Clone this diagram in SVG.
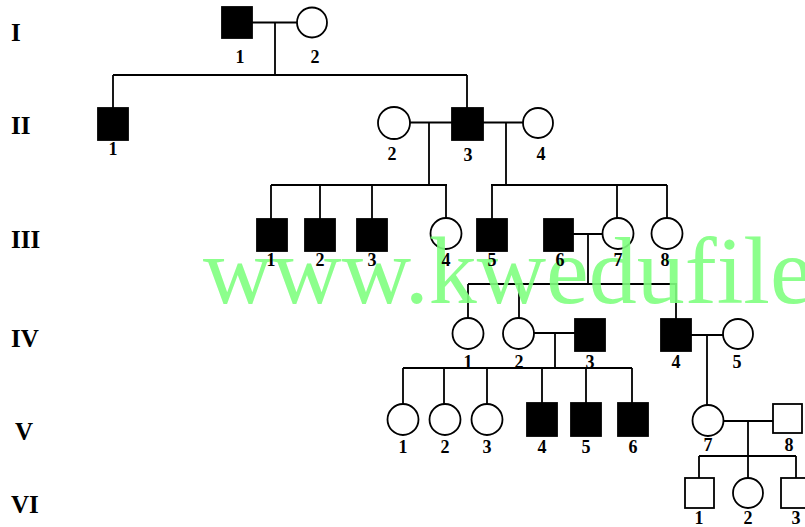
<svg xmlns="http://www.w3.org/2000/svg" width="805" height="527" viewBox="0 0 805 527">
<style>
.a{fill:#000;stroke:#000;stroke-width:1.8}
.u{fill:#fff;stroke:#000;stroke-width:1.8}
.ln{stroke:#000;stroke-width:1.8;fill:none}
.n{font-family:"Liberation Serif","Times New Roman",serif;font-weight:bold;font-size:18px;text-anchor:middle;fill:#000}
.g{font-family:"Liberation Serif","Times New Roman",serif;font-weight:bold;font-size:25px;fill:#000}
.w{font-family:"Liberation Serif","Times New Roman",serif;font-size:96px;fill:#7fff7f;fill-opacity:0.9}
</style>
<rect width="805" height="527" fill="#fff"/>
<g id="generations">
<text class="g" x="11" y="41">I</text>
<text class="g" x="11" y="134">II</text>
<text class="g" x="11" y="248">III</text>
<text class="g" x="11" y="347">IV</text>
<text class="g" x="15" y="440">V</text>
<text class="g" x="11" y="513">VI</text>
</g>
<g id="connectors" class="ln">
<path d="M252 22.5H297M275 22.5V75M113 75H467M113 75V108M467 75V108"/>
<path d="M410 122.5H452M483 122.5H523M429 122.5V185M506 122.5V185"/>
<path d="M271 185H447M271 185V219M320 185V219M372 185V219M446 185V218"/>
<path d="M491 185H667M492 185V219M617 185V218M667 185V218"/>
<path d="M573 234H603M588 234V284M468 284H677M468 284V318M519 284V318M676 284V319"/>
<path d="M534 333H575M555 333V368M691 335H723M707 335V405"/>
<path d="M403 368H632M403 368V404M444 368V404M487 368V404M542 368V403M586 368V403M632 368V403"/>
<path d="M723 421H773M748 421V456M699 456H796M699 456V478M748 456V478M796 456V478"/>
</g>
<g id="I-1"><rect class="a" x="222" y="7" width="30" height="31"/></g>
<g id="I-2"><circle class="u" cx="312" cy="22.5" r="15"/></g>
<g id="II-1"><rect class="a" x="98" y="108" width="30" height="32"/></g>
<g id="II-2"><circle class="u" cx="394" cy="123" r="16"/></g>
<g id="II-3"><rect class="a" x="452" y="108" width="31" height="32"/></g>
<g id="II-4"><circle class="u" cx="538" cy="123" r="15"/></g>
<g id="III-1"><rect class="a" x="257" y="219" width="30" height="32"/></g>
<g id="III-2"><rect class="a" x="305" y="219" width="30" height="32"/></g>
<g id="III-3"><rect class="a" x="357" y="219" width="30" height="32"/></g>
<g id="III-4"><circle class="u" cx="446" cy="233.5" r="15.5"/></g>
<g id="III-5"><rect class="a" x="477" y="219" width="30" height="32"/></g>
<g id="III-6"><rect class="a" x="544" y="219" width="29" height="32"/></g>
<g id="III-7"><circle class="u" cx="618" cy="233.5" r="15.5"/></g>
<g id="III-8"><circle class="u" cx="667" cy="233.5" r="15.5"/></g>
<g id="IV-1"><circle class="u" cx="468" cy="333.5" r="15.5"/></g>
<g id="IV-2"><circle class="u" cx="518.5" cy="333.5" r="15.5"/></g>
<g id="IV-3"><rect class="a" x="575" y="319" width="30" height="32"/></g>
<g id="IV-4"><rect class="a" x="661" y="319" width="30" height="32"/></g>
<g id="IV-5"><circle class="u" cx="738" cy="334" r="15"/></g>
<g id="V-1"><circle class="u" cx="403" cy="419.5" r="15.5"/></g>
<g id="V-2"><circle class="u" cx="445" cy="419.5" r="15.5"/></g>
<g id="V-3"><circle class="u" cx="487" cy="419.5" r="15.5"/></g>
<g id="V-4"><rect class="a" x="527" y="403" width="30" height="33"/></g>
<g id="V-5"><rect class="a" x="571" y="403" width="30" height="33"/></g>
<g id="V-6"><rect class="a" x="618" y="403" width="30" height="33"/></g>
<g id="V-7"><circle class="u" cx="708" cy="420.5" r="15.5"/></g>
<g id="V-8"><rect class="u" x="773" y="404" width="29" height="29"/></g>
<g id="VI-1"><rect class="u" x="685" y="478" width="29" height="30"/></g>
<g id="VI-2"><circle class="u" cx="748" cy="493" r="15"/></g>
<g id="VI-3"><rect class="u" x="781" y="478" width="29" height="30"/></g>
<text class="w" x="203" y="303">www.kwedufile</text>
<g id="labels">
<text class="n" x="240" y="63">1</text>
<text class="n" x="315" y="63">2</text>
<text class="n" x="113" y="155">1</text>
<text class="n" x="392" y="160">2</text>
<text class="n" x="468" y="161">3</text>
<text class="n" x="541" y="160">4</text>
<text class="n" x="271" y="266">1</text>
<text class="n" x="320" y="266">2</text>
<text class="n" x="372" y="266">3</text>
<text class="n" x="446" y="266">4</text>
<text class="n" x="492" y="266">5</text>
<text class="n" x="560" y="266">6</text>
<text class="n" x="618" y="266">7</text>
<text class="n" x="665" y="266">8</text>
<text class="n" x="468" y="368">1</text>
<text class="n" x="519" y="368">2</text>
<text class="n" x="590" y="368">3</text>
<text class="n" x="676" y="368">4</text>
<text class="n" x="737" y="368">5</text>
<text class="n" x="403" y="453">1</text>
<text class="n" x="445" y="453">2</text>
<text class="n" x="487" y="453">3</text>
<text class="n" x="542" y="453">4</text>
<text class="n" x="586" y="453">5</text>
<text class="n" x="633" y="453">6</text>
<text class="n" x="708" y="451">7</text>
<text class="n" x="789" y="451">8</text>
<text class="n" x="699" y="524">1</text>
<text class="n" x="748" y="524">2</text>
<text class="n" x="796" y="524">3</text>
</g>
</svg>
